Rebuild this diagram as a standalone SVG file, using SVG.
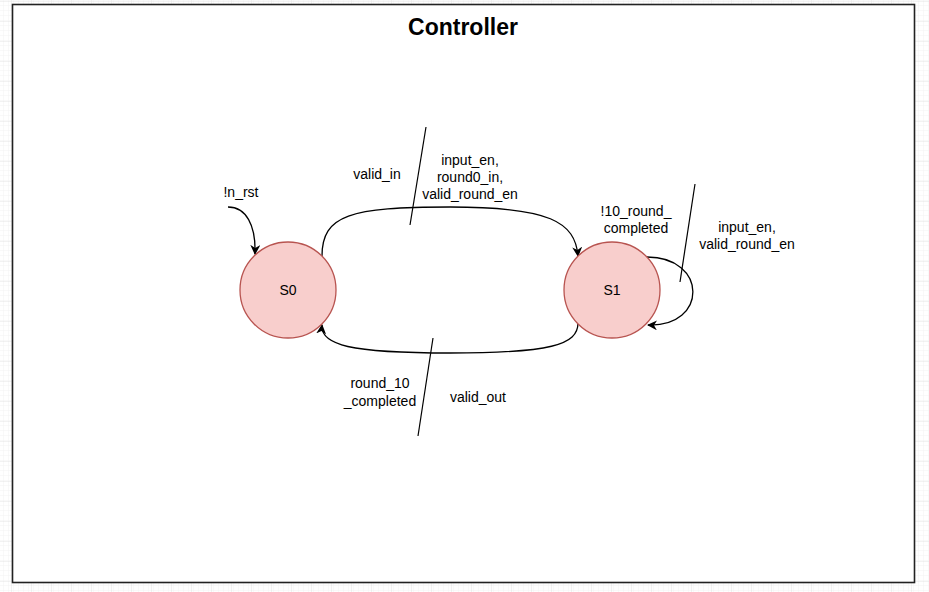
<svg xmlns="http://www.w3.org/2000/svg" width="929" height="592" viewBox="0 0 929 592">
<style>
  text { font-family: "Liberation Sans", Arial, sans-serif; font-size: 14px; fill: #000; text-anchor: middle; dominant-baseline: central; }
  .title { font-size: 23px; font-weight: bold; }
  .state { fill: #f8cecc; stroke: #b85450; stroke-width: 1.3; }
  .edge { fill: none; stroke: #000; stroke-width: 1.3; }
  .slash { stroke: #000; stroke-width: 1.2; }
</style>
<defs>
  <pattern id="minor" width="5" height="5" patternUnits="userSpaceOnUse" x="2" y="4">
    <path d="M5,0 V5 M0,5 H5" fill="none" stroke="#f3f3f3" stroke-width="1"/>
  </pattern>
  <pattern id="major" width="20" height="20" patternUnits="userSpaceOnUse" x="12" y="2">
    <rect width="20" height="20" fill="url(#minor)"/>
    <path d="M20,0 V20 M0,20 H20" fill="none" stroke="#e4e4e4" stroke-width="1"/>
  </pattern>
  <marker id="arr" viewBox="0 0 10 10" refX="9" refY="5" markerWidth="10" markerHeight="10" markerUnits="userSpaceOnUse" orient="auto">
    <path d="M0,0 L10,5 L0,10 L3,5 Z" fill="#000"/>
  </marker>
</defs>
<rect width="929" height="592" fill="#fff"/>
<rect width="929" height="592" fill="url(#major)"/>
<g id="frame">
  <rect x="12.5" y="4.5" width="902" height="578" fill="#fff" stroke="#222" stroke-width="1.6"/>
  <text class="title" x="463" y="27">Controller</text>
</g>
<g id="connectors">
  <path class="edge" d="M228,207 C246,207 256,225 255,254" marker-end="url(#arr)"/>
  <path class="edge" d="M322,256 C322,215 350,207 450,207 C550,207 575,222 578,256" marker-end="url(#arr)"/>
  <path class="edge" d="M578,323 C578,345 550,353 450,353 C350,353 320,345 322,325" marker-end="url(#arr)"/>
  <path class="edge" d="M647,257 C708,257 708,327 648,325" marker-end="url(#arr)"/>
  <line class="slash" x1="426" y1="127" x2="410" y2="225"/>
  <line class="slash" x1="433" y1="338" x2="418" y2="436"/>
  <line class="slash" x1="695" y1="184" x2="680" y2="282"/>
  <text x="241" y="192">!n_rst</text>
  <text x="377" y="174">valid_in</text>
  <text x="470" y="160">input_en,</text>
  <text x="470" y="177">round0_in,</text>
  <text x="470" y="194">valid_round_en</text>
  <text x="636" y="211">!10_round_</text>
  <text x="636" y="228">completed</text>
  <text x="747" y="227">input_en,</text>
  <text x="747" y="244">valid_round_en</text>
  <text x="380" y="383">round_10</text>
  <text x="380" y="401">_completed</text>
  <text x="478" y="397">valid_out</text>
</g>
<g id="S0">
  <circle class="state" cx="288" cy="290" r="48"/>
  <text x="288" y="290">S0</text>
</g>
<g id="S1">
  <circle class="state" cx="612" cy="290" r="48"/>
  <text x="612" y="290">S1</text>
</g>
</svg>
